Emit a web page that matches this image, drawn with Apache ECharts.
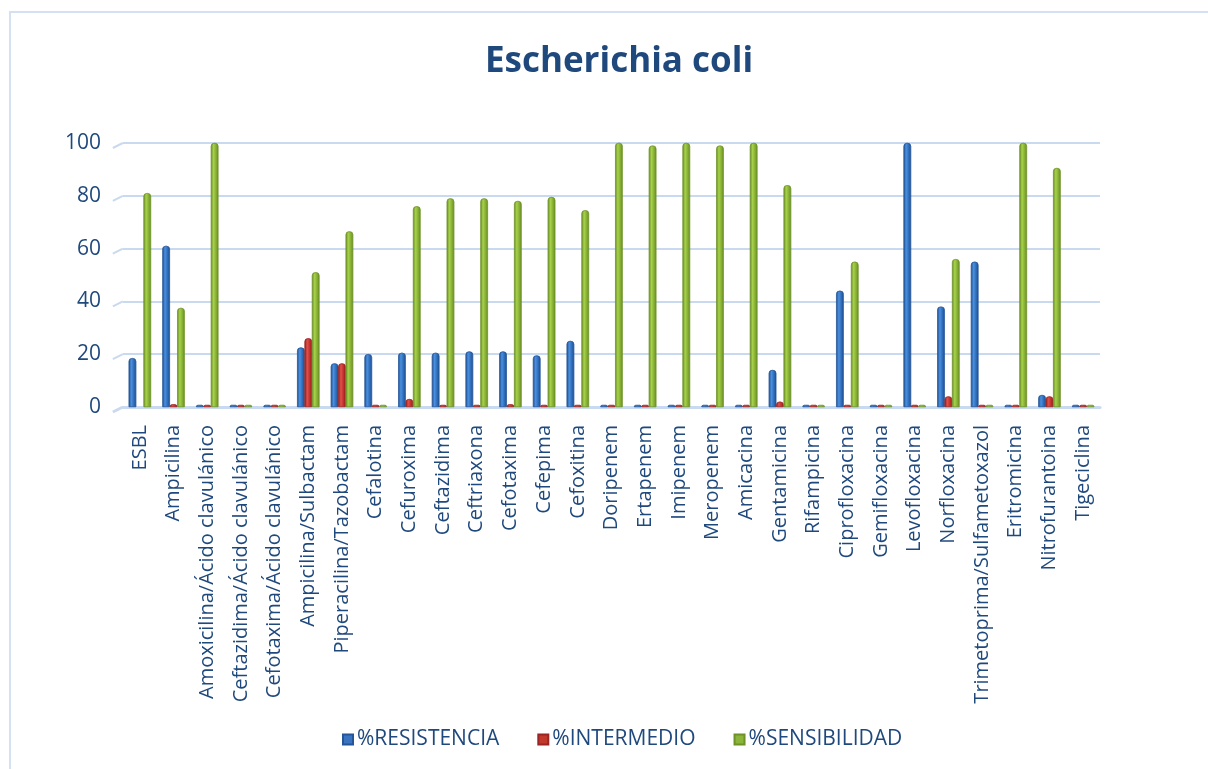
<!DOCTYPE html>
<html>
<head>
<meta charset="utf-8">
<style>
  html, body { margin: 0; padding: 0; background: #ffffff; }
  #chart { width: 1208px; height: 769px; }
</style>
<script src="https://cdn.jsdelivr.net/npm/echarts@6/dist/echarts.min.js"></script>
</head>
<body>
<div id="chart"></div>
<script>
// Antimicrobial susceptibility profile of Escherichia coli (percentages)
const categories = [
  'ESBL', 'Ampicilina', 'Amoxicilina/Ácido clavulánico', 'Ceftazidima/Ácido clavulánico',
  'Cefotaxima/Ácido clavulánico', 'Ampicilina/Sulbactam', 'Piperacilina/Tazobactam',
  'Cefalotina', 'Cefuroxima', 'Ceftazidima', 'Ceftriaxona', 'Cefotaxima', 'Cefepima',
  'Cefoxitina', 'Doripenem', 'Ertapenem', 'Imipenem', 'Meropenem', 'Amicacina',
  'Gentamicina', 'Rifampicina', 'Ciprofloxacina', 'Gemifloxacina', 'Levofloxacina',
  'Norfloxacina', 'Trimetoprima/Sulfametoxazol', 'Eritromicina', 'Nitrofurantoina', 'Tigeciclina'
];

const resistencia = [18.5, 61, 0, 0, 0, 22.5, 16.5, 20, 20.5, 20.5, 21, 21, 19.5, 25,
  0, 0, 0, 0, 0, 14, 0, 44, 0, 100, 38, 55, 0, 4.5, 0];

const intermedio = [null, 1, 0, 0, 0, 26, 16.5, 0, 3, 0, 0, 1, 0, 0,
  0, 0, 0, 0, 0, 2, 0, 0, 0, 0, 4, 0, 0, 4, 0];

const sensibilidad = [81, 37.5, 100, 0, 0, 51, 66.5, 0, 76, 79, 79, 78, 79.5, 74.5,
  100, 99, 100, 99, 100, 84, 0, 55, 0, 0, 56, 0, 100, 90.5, 0];

const seriesNames = ['%RESISTENCIA', '%INTERMEDIO', '%SENSIBILIDAD'];
const yTicks = [0, 20, 40, 60, 80, 100];

const textColor = '#1f497d';
const gridColor = '#c9daf0';
const fontFamily = '"Open Sans", "Liberation Sans", sans-serif';

// cylinder-like horizontal shading for each bar
function cylinder(dark, mid, light) {
  return new echarts.graphic.LinearGradient(0, 0, 1, 0, [
    { offset: 0, color: dark },
    { offset: 0.35, color: light },
    { offset: 0.7, color: mid },
    { offset: 1, color: dark }
  ]);
}

const palettes = [
  { fill: cylinder('#1f4f8f', '#2f6cb8', '#4a90e0'), legend: '#3a73bf', edge: '#245596' },
  { fill: cylinder('#8e1f1c', '#c0312d', '#e2504a'), legend: '#c0392b', edge: '#9a2522' },
  { fill: cylinder('#6a8b25', '#86ae34', '#a6d24a'), legend: '#8ab43a', edge: '#6f9228' }
];

const dataSets = [resistencia, intermedio, sensibilidad];

const chart = echarts.init(document.getElementById('chart'), null, { renderer: 'canvas' });

chart.setOption({
  backgroundColor: '#ffffff',
  animation: false,
  title: {
    text: 'Escherichia coli',
    left: 614,
    textAlign: 'center',
    top: 40,
    textStyle: { color: textColor, fontFamily: fontFamily, fontWeight: 'bold', fontSize: 35 }
  },
  legend: {
    data: seriesNames.map((n, i) => ({ name: n, itemStyle: { color: palettes[i].legend } })),
    bottom: 14,
    left: 337,
    itemWidth: 10,
    itemHeight: 10,
    itemGap: 38,
    icon: 'rect',
    textStyle: { color: textColor, fontFamily: fontFamily, fontSize: 21, padding: [0, 0, 0, -1] }
  },
  grid: { left: 123, right: 108, top: 143, bottom: 362, containLabel: false },
  xAxis: {
    type: 'category',
    data: categories,
    axisLine: { show: true, lineStyle: { color: gridColor, width: 3 } },
    axisTick: { show: false },
    axisLabel: {
      rotate: 90,
      interval: 0,
      margin: 18,
      color: textColor,
      fontFamily: fontFamily,
      fontSize: 20
    }
  },
  yAxis: {
    type: 'value',
    min: 0,
    max: 100,
    interval: 20,
    axisLine: { show: false },
    axisTick: { show: false },
    splitLine: { lineStyle: { color: gridColor, width: 2 } },
    axisLabel: {
      margin: 22,
      color: textColor,
      fontFamily: fontFamily,
      fontSize: 21,
      formatter: v => (yTicks.includes(v) ? String(v) : '')
    }
  },
  series: dataSets.map((d, i) => ({
    name: seriesNames[i],
    type: 'bar',
    data: d,
    barGap: '0%',
    barCategoryGap: '34%',
    barMinHeight: 2,
    itemStyle: {
      color: palettes[i].fill,
      borderColor: palettes[i].edge,
      borderWidth: 0.5,
      borderRadius: [3, 3, 0, 0]
    }
  }))
});

// chart-area frame and the slanted left ends of the back-wall gridlines
const decorations = [{
  type: 'rect',
  shape: { x: 10, y: 12, width: 1220, height: 780 },
  style: { fill: 'none', stroke: '#d3e1f3', lineWidth: 2 },
  silent: true
}];
yTicks.forEach(t => {
  const y = chart.convertToPixel({ yAxisIndex: 0 }, t);
  const x0 = chart.convertToPixel({ xAxisIndex: 0 }, 0) - 17;
  decorations.push({
    type: 'line',
    shape: { x1: x0 - 10, y1: y + 5, x2: x0, y2: y },
    style: { stroke: gridColor, lineWidth: t === 0 ? 3 : 2 },
    silent: true
  });
});
chart.setOption({ graphic: decorations });
</script>
</body>
</html>
